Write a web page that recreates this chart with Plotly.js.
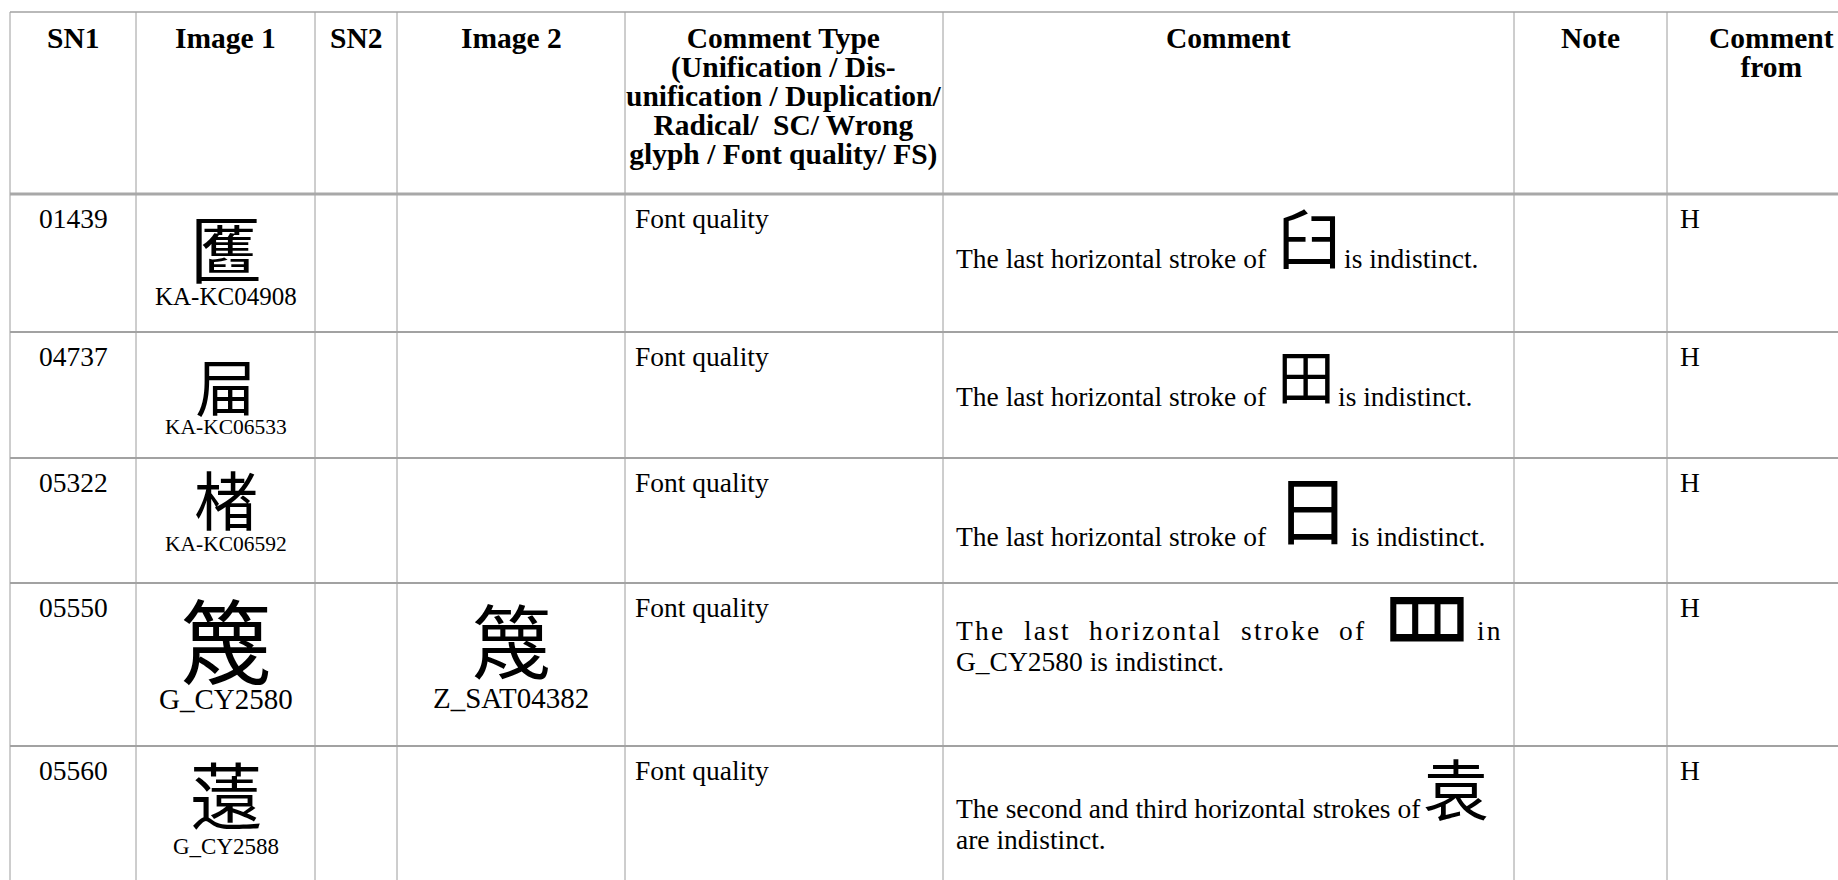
<!DOCTYPE html>
<html>
<head>
<meta charset="utf-8">
<script src="https://cdn.plot.ly/plotly-3.0.1.min.js"></script>
<style>
html,body{margin:0;padding:0;background:#ffffff;}
#chart{width:1838px;height:880px;}
</style>
</head>
<body>
<div id="chart"></div>
<script>
// ================= DATA =================
const headers = [
  "SN1",
  "Image 1",
  "SN2",
  "Image 2",
  "Comment Type\n(Unification / Dis-\nunification / Duplication/\nRadical/  SC/ Wrong\nglyph / Font quality/ FS)",
  "Comment",
  "Note",
  "Comment\nfrom"
];
const sn1 = ["01439", "04737", "05322", "05550", "05560"];
const image1Glyphs = ["匶", "屇", "楮", "篾", "薳"];
const image1Sources = ["KA-KC04908", "KA-KC06533", "KA-KC06592", "G_CY2580", "G_CY2588"];
const sn2 = ["", "", "", "", ""];
const image2Glyphs = ["", "", "", "篾", ""];
const image2Sources = ["", "", "", "Z_SAT04382", ""];
const commentTypes = ["Font quality", "Font quality", "Font quality", "Font quality", "Font quality"];
const commentBefore = [
  "The last horizontal stroke of",
  "The last horizontal stroke of",
  "The last horizontal stroke of",
  "The last horizontal stroke of",
  "The second and third horizontal strokes of"
];
const commentGlyphs = ["臼", "田", "日", "罒", "袁"];
const commentAfter = ["is indistinct.", "is indistinct.", "is indistinct.", "in", ""];
const commentLine2 = ["", "", "", "G_CY2580 is indistinct.", "are indistinct."];
const notes = ["", "", "", "", ""];
const commentFrom = ["H", "H", "H", "H", "H"];

// ================= LAYOUT (positions / sizes / styles) =================
const W = 1838, H = 880;
const colEdges = [10, 136, 315, 397, 625, 943, 1514, 1667, 1875];
const rowEdges = [12, 194, 332, 458, 583, 746, 960];
const serif = "'Liberation Serif', 'Times New Roman', serif";
const headerSize = 29.5, headerFirstDy = 25.5, headerLineGap = 29;
const bodySize = 27.5, bodyDy = 24, lineGap = 30.5;
const img1GlyphSize = [72, 62, 64, 92, 72];
const img1GlyphDy = [56, 57.5, 43.5, 59.5, 49.5];   // ink centre below row top
const img1LabelSize = [25, 21.5, 21.5, 29, 23];
const img1LabelDy = [103, 96, 87, 117, 101];       // label centre below row top
const img2GlyphSize = 80, img2GlyphDy = 58.5, img2LabelSize = 29, img2LabelDy = 116;
const commentBaseDy = [73, 70, 82, 57, 72];
const commentTextShift = [1, 4, 6, 0, 0];
const commentGlyphSize = [64, 58, 75, 94, 66];
const commentGlyphInkH = [57, 50, 60, 40, 58];
const commentGlyphInkW = [52, 46, 46, 74, 61];
const commentGlyphAdj = [-0.05, -0.05, -0.05, 0.214, -0.05];
const commentGlyphStretchY = [1, 1, 1, 1.3, 1];
const commentGlyphPreGap = [18, 18, 24, 18, 6];
const commentGlyphPostGap = [8, 8, 15, 8, 8];
const commentJustify = [false, false, false, true, false];
const commentPad = 12;
const LS = 1.3;                 // Plotly line spacing factor (em)
const cjkBaseEm = 0.386;        // ink centre above baseline (em) for CJK glyphs
const serifCenterEm = 0.3375, serifAscEm = 0.891, serifDescEm = 0.216;
const lineColor = "#9c9c9c";

function cjkFamily(src) {
  if (src.startsWith("KA")) return "'Noto Sans CJK KR', 'Noto Sans CJK SC', sans-serif";
  if (src.startsWith("Z")) return "'Noto Sans CJK TC', 'Noto Sans CJK SC', sans-serif";
  return "'Noto Sans CJK SC', sans-serif";
}

const ctx = document.createElement("canvas").getContext("2d");
function mw(t, size, fam) { ctx.font = size + "px " + (fam || "'Liberation Serif'"); return ctx.measureText(t).width; }

const ann = [];
const shapes = [];
const letterSpaced = [];
const stretched = [];
function addText(x, y, text, size, opts) {
  opts = opts || {};
  ann.push({
    x: x, y: y, xref: "x", yref: "y", text: text, showarrow: false,
    xanchor: opts.xa || "left", yanchor: opts.ya || "middle",
    align: opts.xa === "center" ? "center" : "left",
    borderpad: 0,
    font: { family: opts.family || serif, size: size, color: "#000000", weight: opts.weight || "normal" }
  });
  return ann.length - 1;
}
function span(t, size, fam) {
  return '<span style="font-size:' + size + 'px' + (fam ? ';font-family:' + fam : '') + '">' + t + '</span>';
}
// glyph image + source label in one text block
function imageCell(cx, top, glyph, gs, fam, label, ls, inkDy, labelDy) {
  const glyphBase = top + inkDy + cjkBaseEm * gs;
  const labelBase = top + labelDy + serifCenterEm * ls;
  const gap = labelBase - glyphBase;
  const txt = span(glyph, gs, fam) + "<br>" + span(label, ls);
  addText(cx, labelBase + serifDescEm * ls, txt, gap / LS, { xa: "center", ya: "bottom" });
}

// ---- grid lines ----
colEdges.forEach(function (x) {
  shapes.push({ type: "line", xref: "x", yref: "y", x0: x, x1: x, y0: rowEdges[0], y1: H + 40,
    line: { color: lineColor, width: 1 } });
});
rowEdges.forEach(function (y, k) {
  const w = k === 1 ? 3 : (k === 0 ? 1.5 : 2);
  const c = k === 1 ? "#a8a8a8" : "#a2a2a2";
  shapes.push({ type: "line", xref: "x", yref: "y", x0: colEdges[0], x1: W + 40, y0: y, y1: y,
    line: { color: c, width: w } });
});

// ---- header (each cell one text block, tight leading) ----
headers.forEach(function (h, c) {
  const cx = (colEdges[c] + colEdges[c + 1]) / 2;
  const lines = h.split("\n").map(function (ln) { return span(ln, headerSize); });
  const firstCenter = rowEdges[0] + headerFirstDy;
  addText(cx, firstCenter - (serifAscEm - serifCenterEm) * headerSize, lines.join("<br>"),
    headerLineGap / LS, { xa: "center", ya: "top", weight: "bold" });
});

// ---- body rows ----
for (let i = 0; i < sn1.length; i++) {
  const top = rowEdges[i + 1];
  const c = function (k) { return (colEdges[k] + colEdges[k + 1]) / 2; };

  addText(c(0), top + bodyDy, sn1[i], bodySize, { xa: "center" });

  imageCell(c(1), top, image1Glyphs[i], img1GlyphSize[i], cjkFamily(image1Sources[i]),
    image1Sources[i], img1LabelSize[i], img1GlyphDy[i], img1LabelDy[i]);

  if (sn2[i]) addText(c(2), top + bodyDy, sn2[i], bodySize, { xa: "center" });

  if (image2Glyphs[i]) {
    imageCell(c(3), top, image2Glyphs[i], img2GlyphSize, cjkFamily(image2Sources[i]),
      image2Sources[i], img2LabelSize, img2GlyphDy, img2LabelDy);
  }

  addText(colEdges[4] + 9, top + bodyDy, commentTypes[i], bodySize);
  if (notes[i]) addText(colEdges[6] + 12, top + bodyDy, notes[i], bodySize);
  addText(colEdges[7] + 12, top + bodyDy, commentFrom[i], bodySize);

  // ---- comment cell ----
  const cLeft = colEdges[5] + commentPad, cRight = colEdges[6] - commentPad;
  const base = top + commentBaseDy[i];
  const textY = base - 0.34 * bodySize + commentTextShift[i];
  const gs = commentGlyphSize[i], gw = commentGlyphInkW[i];
  const glyphY = base - commentGlyphInkH[i] / 2 + commentGlyphAdj[i] * gs;
  const gFam = "'Noto Sans CJK SC', sans-serif";
  const gOpts = { xa: "center", family: gFam };
  let gIdx;

  if (!commentJustify[i]) {
    addText(cLeft, textY, commentBefore[i], bodySize);
    const gLeft = cLeft + mw(commentBefore[i], bodySize) + commentGlyphPreGap[i];
    gIdx = addText(gLeft + gw / 2, glyphY, commentGlyphs[i], gs, gOpts);
    if (commentAfter[i]) addText(gLeft + gw + commentGlyphPostGap[i], textY, commentAfter[i], bodySize);
  } else {
    // justified first line of a wrapped paragraph
    const tokens = [];
    commentBefore[i].split(" ").filter(Boolean).forEach(function (w) { tokens.push({ t: w }); });
    tokens.push({ g: commentGlyphs[i] });
    commentAfter[i].split(" ").filter(Boolean).forEach(function (w) { tokens.push({ t: w }); });
    let natural = 0, letters = 0;
    tokens.forEach(function (tk) {
      if (tk.t) { tk.w = mw(tk.t, bodySize); letters += tk.t.length; } else { tk.w = gw; }
      natural += tk.w;
    });
    const gaps = tokens.length - 1;
    let extra = (cRight - cLeft) - natural;
    let ls = 0;
    if (extra > gaps * 14) { ls = (extra * 0.35) / letters; extra -= ls * letters; }
    const gap = extra / gaps;
    let cur = cLeft;
    tokens.forEach(function (tk) {
      if (tk.t) {
        const idx = addText(cur, textY, tk.t, bodySize);
        if (ls > 0) letterSpaced.push({ idx: idx, ls: ls });
        cur += tk.w + ls * tk.t.length + gap;
      } else {
        gIdx = addText(cur + gw / 2 + 6, glyphY, tk.g, gs, gOpts);
        cur += gw + gap;
      }
    });
  }
  if (commentGlyphStretchY[i] !== 1) stretched.push({ idx: gIdx, s: commentGlyphStretchY[i] });
  if (commentLine2[i]) addText(cLeft, textY + lineGap, commentLine2[i], bodySize);
}

const frame = { x: [0, W], y: [0, H], type: "scatter", mode: "none", hoverinfo: "skip", showlegend: false };

const layout = {
  width: W, height: H,
  margin: { l: 0, r: 0, t: 0, b: 0, pad: 0 },
  paper_bgcolor: "#ffffff", plot_bgcolor: "#ffffff",
  xaxis: { range: [0, W], visible: false, fixedrange: true },
  yaxis: { range: [H, 0], visible: false, fixedrange: true },
  showlegend: false,
  shapes: shapes,
  annotations: ann
};

Plotly.newPlot("chart", [frame], layout, { staticPlot: true, displayModeBar: false }).then(function (gd) {
  letterSpaced.forEach(function (o) {
    const t = gd.querySelector('g.annotation[data-index="' + o.idx + '"] text');
    if (t) t.style.letterSpacing = o.ls.toFixed(2) + "px";
  });
  stretched.forEach(function (o) {
    const t = gd.querySelector('g.annotation[data-index="' + o.idx + '"] text');
    if (t) {
      t.style.transformBox = "fill-box";
      t.style.transformOrigin = "center";
      t.style.transform = "scale(1," + o.s + ")";
    }
  });
});
</script>
</body>
</html>
